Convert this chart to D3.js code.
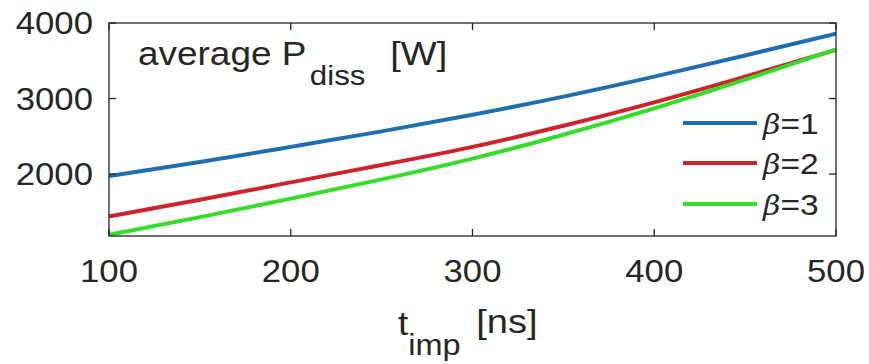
<!DOCTYPE html>
<html><head><meta charset="utf-8">
<script src="https://cdn.jsdelivr.net/npm/d3@7"></script>
<style>body{margin:0;background:#fff}svg{display:block}text{font-family:"Liberation Sans",Arial,sans-serif;fill:#262626}</style>
</head><body>
<script>
const tImp = [100,150,200,250,300,350,400,450,500];
const beta1 = [1975,2160,2360,2565,2785,3025,3290,3570,3860];
const beta2 = [1440,1660,1890,2120,2360,2640,2950,3290,3645];
const beta3 = [1195,1430,1675,1930,2205,2520,2870,3250,3652];
const seriesNames = ["β=1","β=2","β=3"];
const colors = ["#1f6fb0","#d0222a","#35dd2a"];
const xTicks = [100,200,300,400,500];
const yTicks = [2000,3000,4000];

const W=869,H=364, L=109,R=836,T=23,B=236, SX=1.12;
const svg=d3.select("body").append("svg").attr("width",W).attr("height",H);
const x=d3.scaleLinear().domain([100,500]).range([L,R]);
const y=d3.scaleLinear().domain([1180,4000]).range([B,T]);

function stext(px,py,str,size,anchor){
  const g=svg.append("g").attr("transform",`translate(${px},${py}) scale(${SX},1)`);
  return g.append("text").attr("font-size",size).attr("text-anchor",anchor||"start").text(str);
}

svg.append("clipPath").attr("id","c").append("rect").attr("x",L).attr("y",T).attr("width",R-L).attr("height",B-T);
const line=d3.line().x((d,i)=>x(tImp[i])).y(d=>y(d)).curve(d3.curveNatural);
[beta1,beta2,beta3].forEach((s,k)=>{
  svg.append("path").attr("d",line(s)).attr("fill","none").attr("stroke",colors[k]).attr("stroke-width",4).attr("clip-path","url(#c)");
});

// axes with inward ticks
const ax=svg.append("g").attr("stroke","#262626").attr("stroke-width",1.3).attr("fill","none");
ax.append("rect").attr("x",L).attr("y",T).attr("width",R-L).attr("height",B-T);
const tl=7;
xTicks.forEach(v=>{
  ax.append("line").attr("x1",x(v)).attr("x2",x(v)).attr("y1",B).attr("y2",B-tl);
  ax.append("line").attr("x1",x(v)).attr("x2",x(v)).attr("y1",T).attr("y2",T+tl);
  stext(x(v),282,String(v),31,"middle");
});
yTicks.forEach(v=>{
  ax.append("line").attr("y1",y(v)).attr("y2",y(v)).attr("x1",L).attr("x2",L+tl);
  ax.append("line").attr("y1",y(v)).attr("y2",y(v)).attr("x1",R).attr("x2",R-tl);
  stext(93,y(v)+11,String(v),31,"end");
});

// title inside
const t1=stext(138,65,"",33,"start");
t1.append("tspan").text("average P");
t1.append("tspan").attr("dy",20).attr("font-size",28).attr("dx",3).text("diss");
t1.append("tspan").attr("dy",-20).attr("font-size",34).attr("dx",22).text("[W]");

// x label
const t2=stext(398,335,"",33,"start");
t2.append("tspan").text("t");
t2.append("tspan").attr("dy",20).attr("font-size",29).text("imp");
t2.append("tspan").attr("dy",-22).attr("font-size",34).attr("dx",14).text("[ns]");

// legend
const ly=[123,163,204];
seriesNames.forEach((n,k)=>{
  svg.append("line").attr("x1",683).attr("x2",757).attr("y1",ly[k]).attr("y2",ly[k]).attr("stroke",colors[k]).attr("stroke-width",4);
  const tt=stext(763,ly[k]+11,"",30,"start");
  tt.append("tspan").attr("font-style","italic").attr("font-family","DejaVu Serif, serif").attr("font-size",27).text(n.slice(0,1));
  tt.append("tspan").text(n.slice(1));
});
</script>
</body></html>
